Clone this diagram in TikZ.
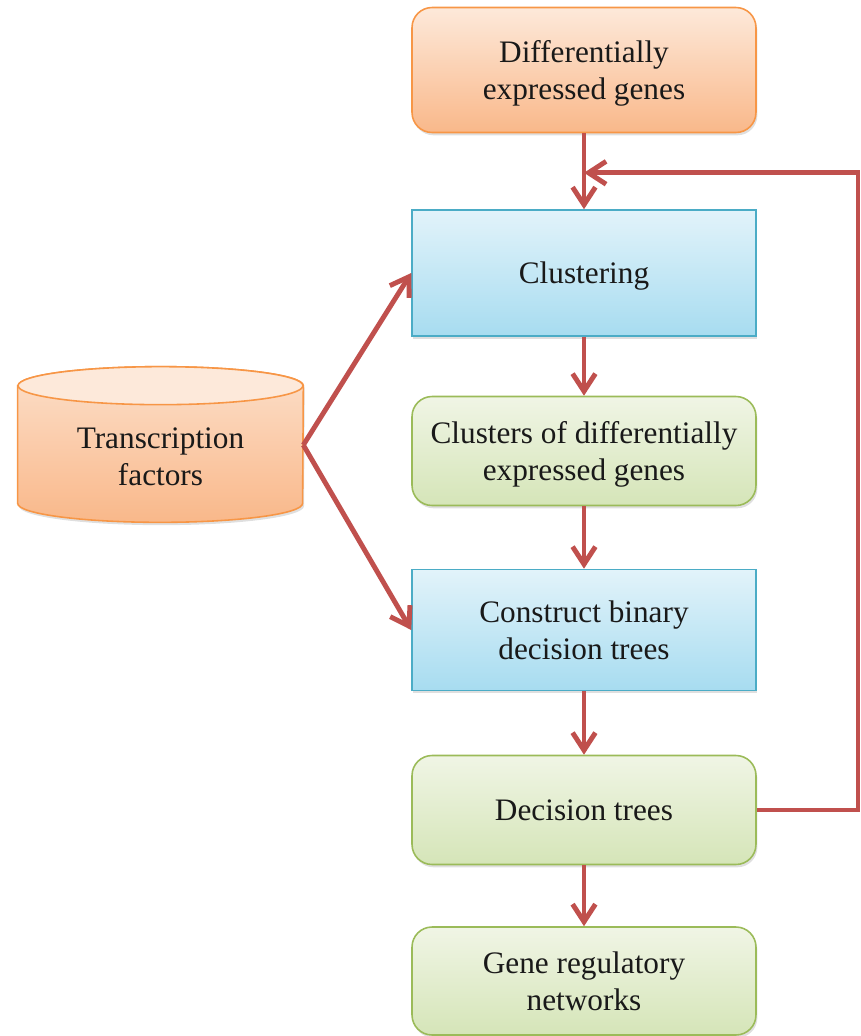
\documentclass[tikz,border=0pt]{standalone}
\usepackage{fontspec}
\setmainfont{Liberation Serif}
\usepackage{tikz}
\usetikzlibrary{calc,shapes,arrows.meta,shadows,backgrounds}

\definecolor{orangeline}{HTML}{F79646}
\definecolor{orangetop}{HTML}{FDE9DA}
\definecolor{orangebot}{HTML}{F9B88A}
\definecolor{blueline}{HTML}{4BACC6}
\definecolor{bluetop}{HTML}{E2F3FA}
\definecolor{bluebot}{HTML}{A7DCF0}
\definecolor{greenline}{HTML}{9BBB59}
\definecolor{greentop}{HTML}{F0F5E5}
\definecolor{greenbot}{HTML}{D5E5B8}
\definecolor{arrowred}{HTML}{C0504D}

\tikzset{
  box/.style={minimum width=6.88cm, align=center, line width=0.9pt,
    text=black!90, font=\fontsize{17.8}{21}\selectfont, text depth=0pt,
    drop shadow={shadow xshift=0.8pt, shadow yshift=-1.6pt, opacity=0.25}},
  orangebox/.style={box, draw=orangeline, top color=orangetop,
    bottom color=orangebot, rounded corners=0.4cm},
  bluebox/.style={box, draw=blueline, top color=bluetop, bottom color=bluebot},
  greenbox/.style={box, draw=greenline, top color=greentop,
    bottom color=greenbot, rounded corners=0.4cm},
  flow/.style={draw=arrowred, line width=2.8pt,
    -{Straight Barb[length=10pt,width=13pt,line width=2.8pt]}},
}

\begin{document}
\begin{tikzpicture}[x=0.02cm,y=-0.02cm]
  \useasboundingbox (0,0) rectangle (861,1036);

  %% Main column of steps
  \node[orangebox, minimum height=2.5cm]  (DEG)  at (584,70)  {Differentially\\expressed genes};
  \node[bluebox,   minimum height=2.52cm] (CLU)  at (584,273) {Clustering};
  \node[greenbox,  minimum height=2.18cm] (CDEG) at (584,451) {Clusters of differentially\\expressed genes};
  \node[bluebox,   minimum height=2.42cm] (CBDT) at (584,630) {Construct binary\\decision trees};
  \node[greenbox,  minimum height=2.18cm] (DT)   at (584,810) {Decision trees};
  \node[greenbox,  minimum height=2.16cm] (GRN)  at (584,981) {Gene regulatory\\networks};

  %% Transcription factor database (cylinder body below its top ellipse)
  \node[minimum width=5.7cm, minimum height=1.84cm, align=center,
    text=black!90, font=\fontsize{17.8}{21}\selectfont, text depth=0pt]
    (TF) at (160.5,457) {Transcription\\factors};
  \begin{scope}[on background layer]
    \shade[top color=orangetop!80!orangebot, bottom color=orangebot,
      draw=orangeline, line width=0.9pt,
      drop shadow={shadow xshift=0.8pt, shadow yshift=-1.6pt, opacity=0.25}]
      ($(TF.north west)+(0,-25)$) -- (TF.south west)
      arc[start angle=180, end angle=360, x radius=2.85cm, y radius=0.38cm]
      -- ($(TF.north east)+(0,-25)$)
      arc[start angle=0, end angle=180, x radius=2.85cm, y radius=0.38cm] -- cycle;
    \filldraw[fill=orangetop, draw=orangeline, line width=0.9pt]
      ($(TF.north)+(0,-25)$) ellipse [x radius=2.85cm, y radius=0.38cm];
  \end{scope}

  %% Arrows down the column
  \foreach \a/\b in {DEG/CLU,CLU/CDEG,CDEG/CBDT,CBDT/DT,DT/GRN}
  {
    \draw[flow] (\a.south) -- (\b.north);
  }

  %% Arrows from the transcription factors
  \draw[flow] ($(TF.east)+(0,-12)$) -- (CLU.west);
  \draw[flow] ($(TF.east)+(0,-12)$) -- (CBDT.west);

  %% Feedback loop
  \coordinate (FBIN) at ($(DEG.south)!0.52!(CLU.north)$);
  \coordinate (FBX) at (858,0);
  \draw[flow] (DT.east) -| (FBX |- FBIN) -- (FBIN);

\end{tikzpicture}
\end{document}
